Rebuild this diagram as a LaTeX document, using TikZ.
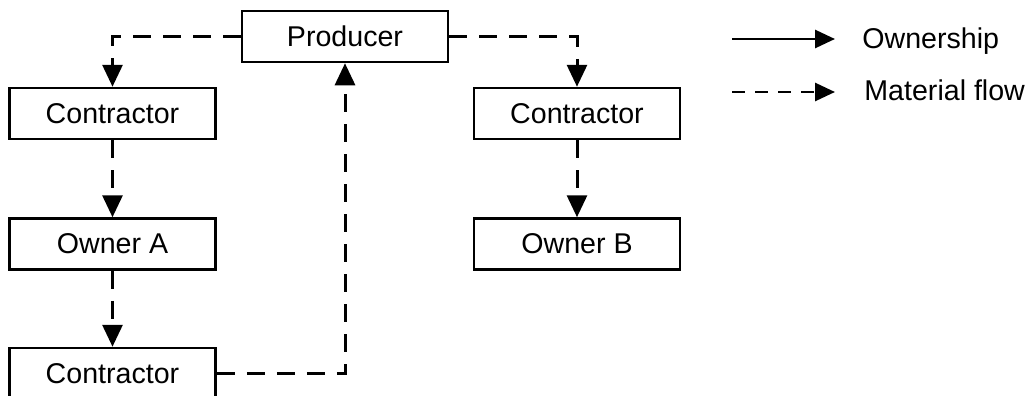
\documentclass[tikz,border=0pt]{standalone}
\usepackage{fontspec}
\setmainfont{Liberation Sans}
\usetikzlibrary{arrows.meta}

\tikzset{
  box/.style={draw, line width=1.25pt, minimum width=103pt, minimum height=25.5pt,
              inner sep=0pt, font=\fontsize{14.3pt}{16pt}\selectfont},
  flow/.style={line width=1.5pt, dash pattern=on 9pt off 6pt,
               -{Triangle[length=11pt,width=10pt]}},
  legflow/.style={line width=1.4pt, dash pattern=on 6.5pt off 5pt,
               -{Triangle[length=10pt,width=9pt]}},
  own/.style={line width=1.4pt, -{Triangle[length=10pt,width=9pt]}},
  legtext/.style={anchor=base west, inner sep=0pt, font=\fontsize{14.3pt}{16pt}\selectfont}
}

\begin{document}
\begin{tikzpicture}[x=0.5pt, y=-0.5pt]
  \useasboundingbox (0,0) rectangle (1025,396);

  % supply chain boxes
  \node[box] (prod) at (345,36.5)  {Producer};
  \node[box] (c1)   at (112.5,113.5) {Contractor};
  \node[box] (oa)   at (112.5,244)  {Owner A};
  \node[box] (c3)   at (112.5,373.5) {Contractor};
  \node[box] (c2)   at (577,113.5)  {Contractor};
  \node[box] (ob)   at (577,244)    {Owner B};

  % material flow
  \draw[flow] (prod.west) -- (c1.north |- prod.west) -- (c1.north);
  \draw[flow] (prod.east) -- (c2.north |- prod.east) -- (c2.north);
  \draw[flow] (c1.south) -- (oa.north);
  \draw[flow] (oa.south) -- (c3.north);
  \draw[flow] (c2.south) -- (ob.north);
  \draw[flow] (c3.east) -- (prod.south |- c3.east) -- (prod.south);

  % legend
  \coordinate (l1a) at (732,39);
  \coordinate (l1b) at (835,39);
  \coordinate (l2a) at (732,92);
  \coordinate (l2b) at (835,92);
  \draw[own] (l1a) -- (l1b);
  \draw[legflow] (l2a) -- (l2b);
  \node[legtext] (t1) at (862,48)  {Ownership};
  \node[legtext] (t2) at (864,100) {Material flow};
\end{tikzpicture}
\end{document}
